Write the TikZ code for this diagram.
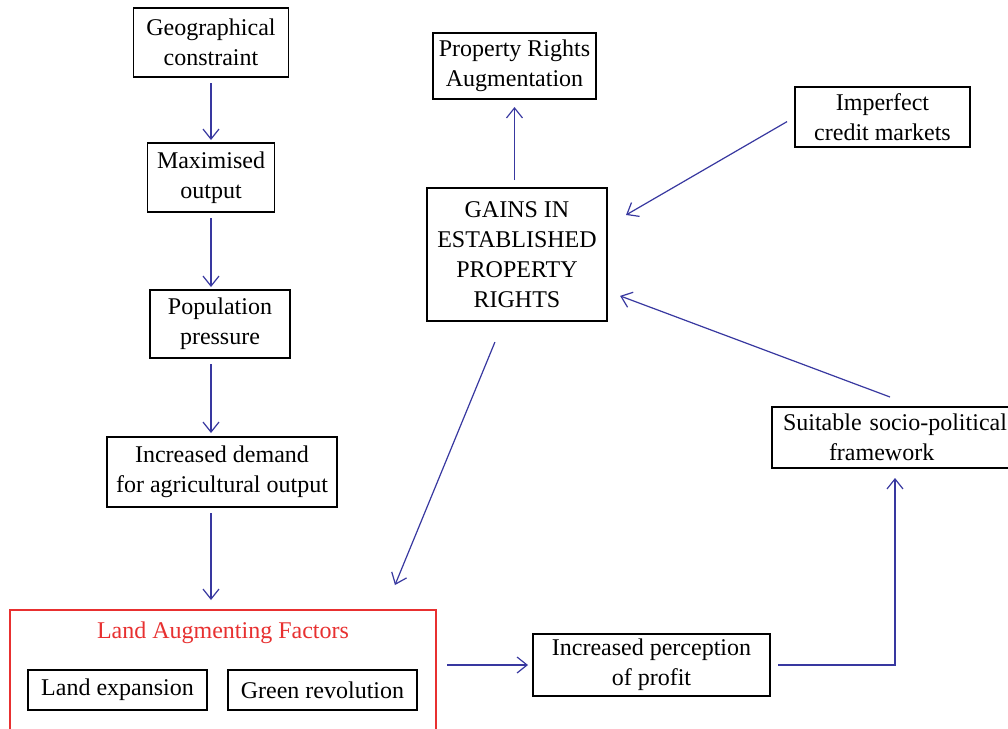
\documentclass[tikz,border=0pt]{standalone}
\usepackage{fontspec}
\setmainfont{Liberation Serif}
\usetikzlibrary{arrows.meta}
\definecolor{arrblue}{RGB}{56,56,160}
\definecolor{boxred}{RGB}{232,48,48}

\begin{document}
\begin{tikzpicture}[x=0.5pt,y=-0.5pt,
  every node/.style={font=\fontsize{12}{15}\selectfont, align=center, inner sep=2pt, outer sep=0pt},
  box/.style={draw=black, line width=0.8pt},
  arr/.style={draw=arrblue, line width=0.6pt, -{Straight Barb[length=5pt,width=8pt]}}]
\useasboundingbox (0,0) rectangle (1008,729);
\clip (0,0) rectangle (1008,729);
\fill[white] (0,0) rectangle (1008,729);

\node[box, minimum width=77.5pt, minimum height=34.5pt] (geo) at (211,42.5) {Geographical\\constraint};
\node[box, minimum width=63.5pt, minimum height=34.5pt] (maxo) at (211,177.5) {Maximised\\output};
\node[box, minimum width=70pt, minimum height=34pt] (pop) at (220,324) {Population\\pressure};
\node[box, minimum width=115pt, minimum height=35pt] (dem) at (222,472) {Increased demand\\for agricultural output};

\node[draw=boxred, line width=0.6pt, minimum width=213pt, minimum height=70pt] (land) at (223,680) {};
\node[text=boxred] (landt) at (223,633) {Land Augmenting Factors};
\node[box, minimum width=89.5pt, minimum height=20pt] (lexp) at (117.5,690) {Land expansion};
\node[box, minimum width=94.5pt, minimum height=20pt] (green) at (322.5,690) {Green revolution};

\node[box, minimum width=118.5pt, minimum height=31pt] (perc) at (651.5,665) {Increased perception\\of profit};
\node[box, minimum width=130pt, minimum height=30.5pt, text width=119pt, align=left] (suit) at (902,437.5) {Suitable socio-political\\\hspace*{23pt}framework};
\node[box, minimum width=90pt, minimum height=66.5pt] (gains) at (517,254.5) {GAINS IN\\ESTABLISHED\\PROPERTY\\RIGHTS};
\node[box, minimum width=81.5pt, minimum height=33pt] (pra) at (514.5,66) {Property Rights\\Augmentation};
\node[box, minimum width=87.5pt, minimum height=30pt] (imp) at (882.5,117) {Imperfect\\credit markets};

\draw[arr, shorten <=3pt, shorten >=1.5pt] (geo.south) -- (geo.south |- maxo.north);
\draw[arr, shorten <=3pt, shorten >=1.5pt] (maxo.south) -- (maxo.south |- pop.north);
\draw[arr, shorten <=3pt, shorten >=2pt] (pop.south -| geo.south) -- (geo.south |- dem.north);
\draw[arr, shorten <=3pt, shorten >=5pt] (dem.south -| geo.south) -- (geo.south |- land.north);
\draw[arr, shorten <=4pt, shorten >=4pt] (gains.north -| pra.south) -- (pra.south);
\draw[arr, shorten <=4.6pt, shorten >=11pt] (imp.west) -- ([yshift=14.25pt]gains.east);
\draw[arr, shorten <=11.4pt, shorten >=13.5pt] ([xshift=-6.7pt]gains.south) -- ([xshift=80.85pt]land.north);
\draw[arr, shorten <=14.25pt, shorten >=7pt] ([xshift=7.35pt]suit.north) -- ([yshift=-18.25pt]gains.east);
\draw[arr, shorten <=5.5pt, shorten >=2.5pt] (perc.west -| land.east) -- (perc.west);
\draw[arr, shorten <=4pt, shorten >=5pt] (perc.east) -| ([xshift=-3.5pt]suit.south);
\end{tikzpicture}
\end{document}
